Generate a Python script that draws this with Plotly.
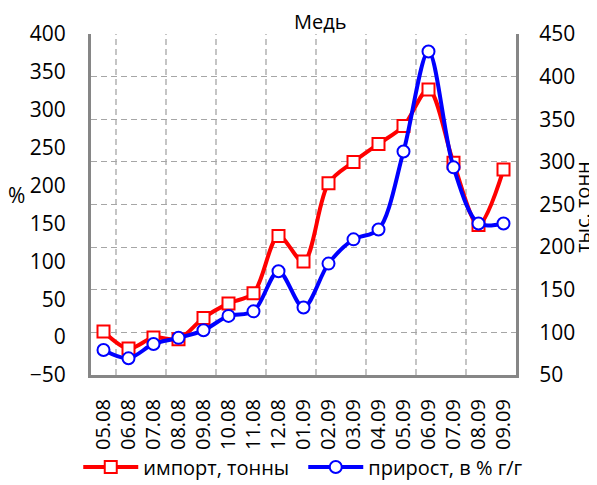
import plotly.graph_objects as go

categories = ["05.08", "06.08", "07.08", "08.08", "09.08", "10.08", "11.08", "12.08",
              "01.09", "02.09", "03.09", "04.09", "05.09", "06.09", "07.09", "08.09", "09.09"]
import_kt = [101, 81, 94, 92, 117, 134, 146, 213, 183, 275, 300, 321, 342, 385, 299, 226, 291]
growth_pct = [-17, -28, -9, -1, 9, 28, 34, 87, 39, 97, 129, 142, 245, 377, 224, 150, 150]

left_ticks = [-50, 0, 50, 100, 150, 200, 250, 300, 350, 400]
right_ticks = [50, 100, 150, 200, 250, 300, 350, 400, 450]

FONT = "Open Sans"
FS = 21
AXIS_GRAY = "#868686"
GRID_GRAY = "#A6A6A6"

# the page body adds an 8px offset; size the figure so it fits the 597x485 window
W, H = 589, 477

fig = go.Figure()
fig.add_trace(go.Scatter(
    x=categories, y=import_kt, name="импорт, тонны", yaxis="y",
    mode="lines+markers",
    line=dict(color="#FF0000", width=4, shape="spline", smoothing=0.9),
    marker=dict(symbol="square", size=12, color="white", line=dict(color="#FF0000", width=2)),
))
fig.add_trace(go.Scatter(
    x=categories, y=growth_pct, name="прирост, в % г/г", yaxis="y2",
    mode="lines+markers",
    line=dict(color="#0000FF", width=4, shape="spline", smoothing=0.9),
    marker=dict(symbol="circle", size=12, color="white", line=dict(color="#0000FF", width=2)),
))

shapes = []
for i in range(0, len(categories) - 2, 2):
    shapes.append(dict(type="line", xref="x", yref="paper", x0=i + 0.5, x1=i + 0.5, y0=0, y1=1,
                       line=dict(color=GRID_GRAY, width=1.3, dash="6px,4px"), layer="below"))

fig.update_layout(
    width=W, height=H,
    margin=dict(l=83, r=81, t=26, b=110, autoexpand=False),
    paper_bgcolor="white", plot_bgcolor="white",
    font=dict(family=FONT, size=FS, color="black"),
    xaxis=dict(type="category", range=[-0.5, len(categories) - 0.5], automargin=False,
               showline=True, linecolor=AXIS_GRAY, linewidth=3, showgrid=False,
               tickangle=-90, ticks="", ticklabelstandoff=13,
               tickfont=dict(family=FONT, size=20)),
    yaxis=dict(side="right", range=[50, 450], tickvals=right_ticks, automargin=False,
               showline=True, linecolor=AXIS_GRAY, linewidth=3,
               showgrid=True, gridcolor=GRID_GRAY, gridwidth=1.3, griddash="6px,4px",
               zeroline=False, ticks="", ticklabelstandoff=16,
               tickfont=dict(family=FONT, size=FS)),
    yaxis2=dict(side="left", overlaying="y", range=[-50, 400], tickvals=left_ticks, automargin=False,
                showline=True, linecolor=AXIS_GRAY, linewidth=3,
                showgrid=False, zeroline=False, ticks="", ticklabelstandoff=18,
                tickfont=dict(family=FONT, size=FS)),
    legend=dict(orientation="h", x=-0.03, xanchor="left",
                y=-0.27, yanchor="middle",
                font=dict(family=FONT, size=20), bgcolor="rgba(0,0,0,0)",
                itemwidth=55, entrywidth=155, entrywidthmode="pixels"),
    showlegend=True,
    shapes=shapes,
    annotations=[
        dict(text="Медь", xref="paper", yref="paper", x=0.539, y=1.038, showarrow=False,
             xanchor="center", yanchor="middle", font=dict(family=FONT, size=20)),
        dict(text="%", xref="paper", yref="paper", x=-0.175, y=0.528, showarrow=False,
             xanchor="center", yanchor="middle", font=dict(family=FONT, size=FS)),
        dict(text="тыс. тонн", xref="paper", yref="paper", x=1.1576, y=0.493, showarrow=False,
             textangle=-90, xanchor="center", yanchor="middle",
             font=dict(family=FONT, size=20)),
    ],
)

fig.write_html("out.html")
